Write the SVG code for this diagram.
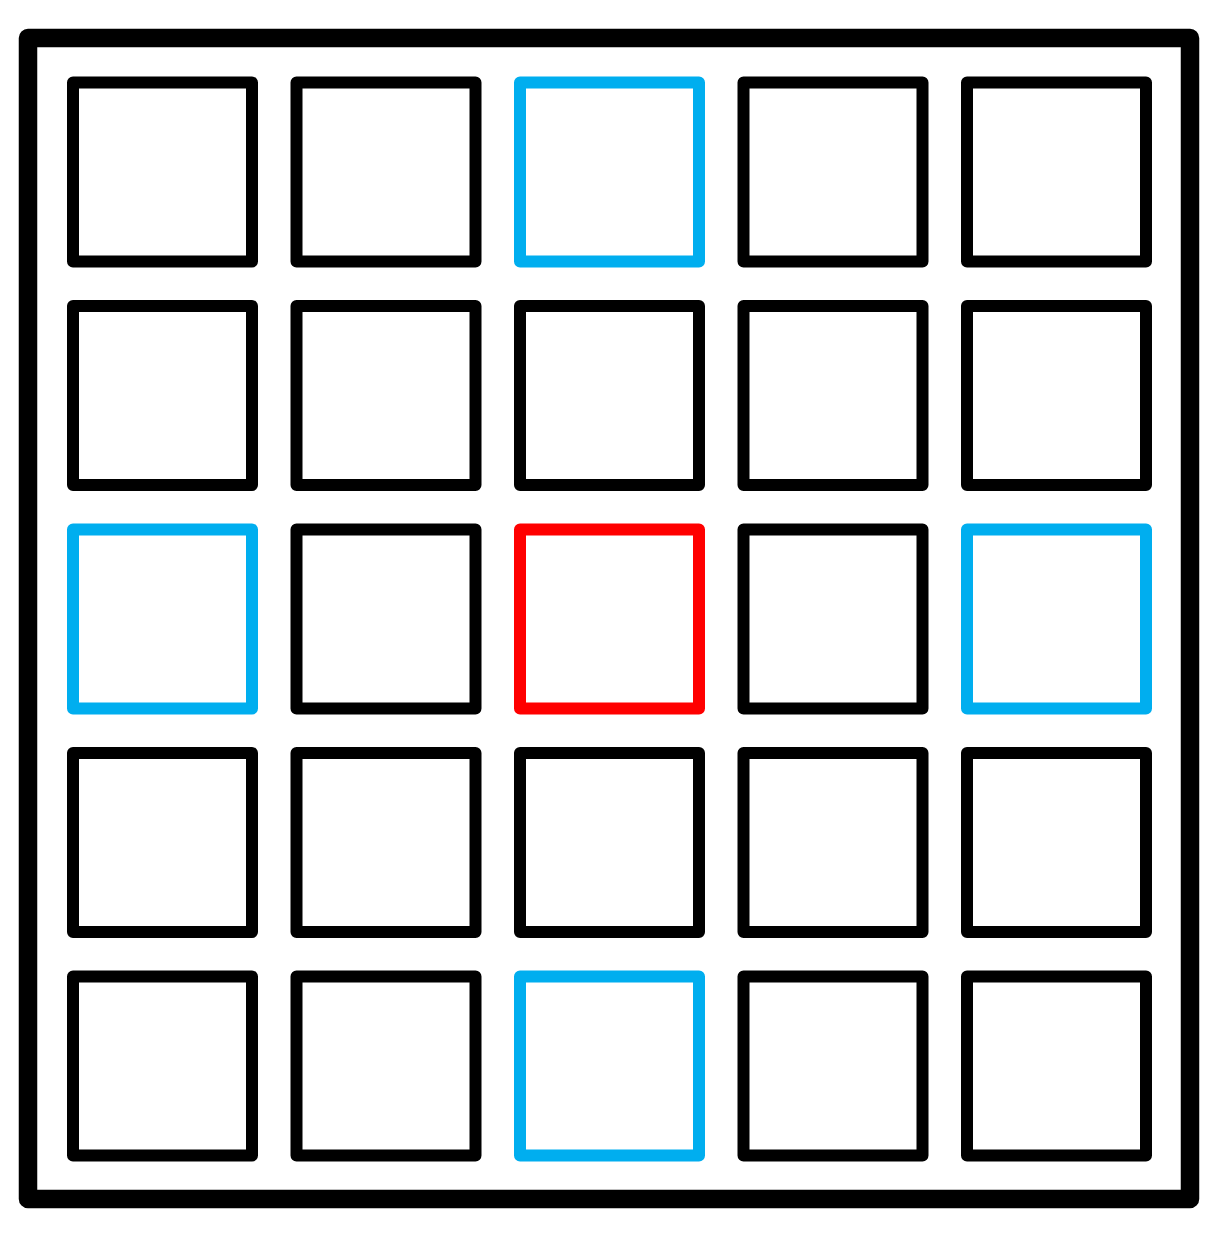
<svg xmlns="http://www.w3.org/2000/svg" width="1221" height="1237" viewBox="0 0 1221 1237">
<style>
.frame{fill:none;stroke:#000;stroke-width:18.5;stroke-linejoin:round}
.cell{fill:none;stroke:#000;stroke-width:12;stroke-linejoin:round}
.blue{stroke:#00AEEF}
.red{stroke:#FF0000}
</style>
<rect width="1221" height="1237" fill="#fff"/>
<g id="frame"><rect class="frame" x="28" y="38" width="1162" height="1161"/></g>
<g id="row1">
<rect id="c11" class="cell" x="73" y="82.5" width="179" height="179"/>
<rect id="c12" class="cell" x="296.5" y="82.5" width="179" height="179"/>
<rect id="c13" class="cell blue" x="520" y="82.5" width="179" height="179"/>
<rect id="c14" class="cell" x="743.5" y="82.5" width="179" height="179"/>
<rect id="c15" class="cell" x="967" y="82.5" width="179" height="179"/>
</g>
<g id="row2">
<rect id="c21" class="cell" x="73" y="306" width="179" height="179"/>
<rect id="c22" class="cell" x="296.5" y="306" width="179" height="179"/>
<rect id="c23" class="cell" x="520" y="306" width="179" height="179"/>
<rect id="c24" class="cell" x="743.5" y="306" width="179" height="179"/>
<rect id="c25" class="cell" x="967" y="306" width="179" height="179"/>
</g>
<g id="row3">
<rect id="c31" class="cell blue" x="73" y="529.5" width="179" height="179"/>
<rect id="c32" class="cell" x="296.5" y="529.5" width="179" height="179"/>
<rect id="c33" class="cell red" x="520" y="529.5" width="179" height="179"/>
<rect id="c34" class="cell" x="743.5" y="529.5" width="179" height="179"/>
<rect id="c35" class="cell blue" x="967" y="529.5" width="179" height="179"/>
</g>
<g id="row4">
<rect id="c41" class="cell" x="73" y="753" width="179" height="179"/>
<rect id="c42" class="cell" x="296.5" y="753" width="179" height="179"/>
<rect id="c43" class="cell" x="520" y="753" width="179" height="179"/>
<rect id="c44" class="cell" x="743.5" y="753" width="179" height="179"/>
<rect id="c45" class="cell" x="967" y="753" width="179" height="179"/>
</g>
<g id="row5">
<rect id="c51" class="cell" x="73" y="976.5" width="179" height="179"/>
<rect id="c52" class="cell" x="296.5" y="976.5" width="179" height="179"/>
<rect id="c53" class="cell blue" x="520" y="976.5" width="179" height="179"/>
<rect id="c54" class="cell" x="743.5" y="976.5" width="179" height="179"/>
<rect id="c55" class="cell" x="967" y="976.5" width="179" height="179"/>
</g>
<g id="connectors"></g>
</svg>
